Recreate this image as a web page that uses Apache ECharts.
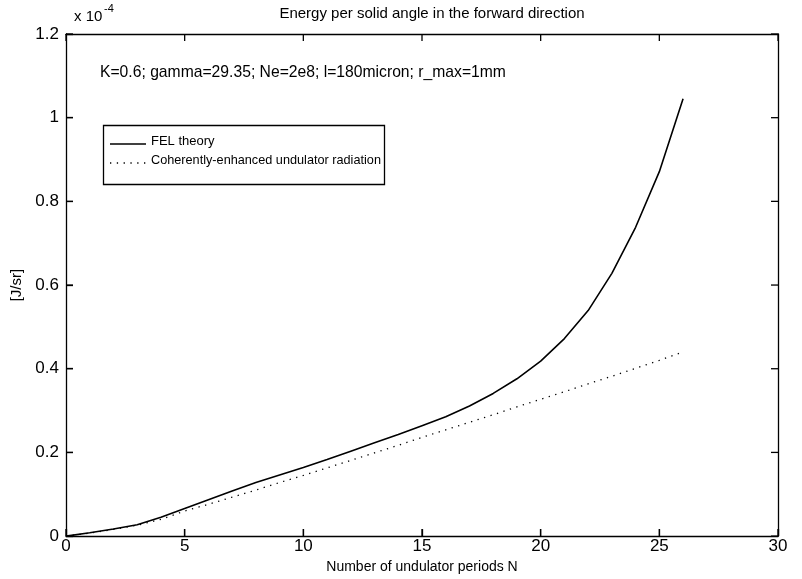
<!DOCTYPE html>
<html>
<head>
<meta charset="utf-8">
<script src="https://cdn.jsdelivr.net/npm/echarts@6/dist/echarts.min.js"></script>
<style>
html,body{margin:0;padding:0;background:#fff;}
#chart{width:802px;height:579px;}
</style>
</head>
<body>
<div id="chart"></div>
<script>
// Number of undulator periods N
const periods = [0,1,2,3,4,5,6,7,8,9,10,11,12,13,14,15,16,17,18,19,20,21,22,23,24,25,26];
// Energy per solid angle [J/sr], in units of 1e-4
const felTheory = [0,0.008,0.017,0.027,0.045,0.066,0.087,0.108,0.128,0.146,0.164,0.183,0.203,0.223,0.243,0.264,0.285,0.311,0.341,0.376,0.418,0.472,0.539,0.628,0.738,0.871,1.045];
const coherentUndulator = [0,0.007,0.016,0.026,0.040,0.060,0.076,0.093,0.110,0.128,0.145,0.163,0.181,0.199,0.217,0.236,0.254,0.272,0.290,0.309,0.327,0.345,0.364,0.382,0.401,0.420,0.440];
const xTicks = [0,5,10,15,20,25,30];
const yTicks = [0,0.2,0.4,0.6,0.8,1,1.2];
const seriesNames = ['FEL theory','Coherently-enhanced undulator radiation'];
const titleText = 'Energy per solid angle in the forward direction';
const noteText = 'K=0.6; gamma=29.35; Ne=2e8; l=180micron; r_max=1mm';

const FONT = 'Liberation Sans, Arial, Helvetica, sans-serif';
const chart = echarts.init(document.getElementById('chart'));
const G = {left:66, right:24, top:34, bottom:40};
const X_MIN = 0, X_MAX = 30, Y_MIN = 0, Y_MAX = 1.2;
const TICK_LEN = 7;
const pair = a => a.map((v,i)=>[periods[i], v]);
const lineStyleAxis = () => ({show:true, onZero:false, lineStyle:{color:'#000', width:1.3}});
// inward tick marks on all four sides of the box: [x, y, kind] (kind 0 = x tick, 1 = y tick)
const tickData = xTicks.map(v => [v, Y_MIN, 0]).concat(yTicks.map(v => [X_MIN, v, 1]));
function renderTick(params, api) {
  const xv = api.value(0), yv = api.value(1), kind = api.value(2);
  const st = {stroke:'#000', lineWidth:1.3, fill:null};
  if (kind === 0) {
    const b = api.coord([xv, Y_MIN]), t = api.coord([xv, Y_MAX]);
    return {type:'group', children:[
      {type:'line', shape:{x1:b[0], y1:b[1], x2:b[0], y2:b[1]-TICK_LEN}, style:st},
      {type:'line', shape:{x1:t[0], y1:t[1], x2:t[0], y2:t[1]+TICK_LEN}, style:st}]};
  }
  const l = api.coord([X_MIN, yv]), r = api.coord([X_MAX, yv]);
  return {type:'group', children:[
    {type:'line', shape:{x1:l[0], y1:l[1], x2:l[0]+TICK_LEN, y2:l[1]}, style:st},
    {type:'line', shape:{x1:r[0], y1:r[1], x2:r[0]-TICK_LEN, y2:r[1]}, style:st}]};
}
chart.setOption({
  animation:false,
  backgroundColor:'#fff',
  title:{text:titleText, left:427, top:1, textAlign:'center',
    textStyle:{fontFamily:FONT, fontSize:15, fontWeight:'normal', color:'#000'}},
  grid:G,
  xAxis:[{type:'value', min:X_MIN, max:X_MAX, interval:5, name:'Number of undulator periods N',
      nameLocation:'middle', nameGap:23,
      nameTextStyle:{fontFamily:FONT, fontSize:14, color:'#000'},
      axisLine:lineStyleAxis(), axisTick:{show:true, inside:true, length:TICK_LEN, lineStyle:{color:'#000', width:1.3}},
      axisLabel:{fontFamily:FONT, fontSize:17, color:'#000', margin:2},
      splitLine:{show:false}},
    {type:'value', position:'top', min:X_MIN, max:X_MAX, interval:5,
      axisLine:lineStyleAxis(), axisTick:{show:false}, axisLabel:{show:false}, splitLine:{show:false}}],
  yAxis:[{type:'value', min:Y_MIN, max:Y_MAX, interval:0.2, name:'[J/sr]',
      nameLocation:'middle', nameGap:39, nameRotate:90,
      nameTextStyle:{fontFamily:FONT, fontSize:15, color:'#000'},
      axisLine:lineStyleAxis(), axisTick:{show:true, inside:true, length:TICK_LEN, lineStyle:{color:'#000', width:1.3}},
      axisLabel:{fontFamily:FONT, fontSize:17, color:'#000', margin:7,
        formatter: v => String(+v.toFixed(1))},
      splitLine:{show:false}},
    {type:'value', position:'right', min:Y_MIN, max:Y_MAX, interval:0.2,
      axisLine:lineStyleAxis(), axisTick:{show:false}, axisLabel:{show:false}, splitLine:{show:false}}],
  series:[
    {name:seriesNames[0], type:'line', data:pair(felTheory), showSymbol:false, symbol:'none',
      lineStyle:{color:'#000', width:1.6}},
    {name:seriesNames[1], type:'line', data:pair(coherentUndulator), showSymbol:false, symbol:'none',
      lineStyle:{color:'#000', width:1.3, type:[1.3,5.5]}},
    {name:'ticks', type:'custom', xAxisIndex:0, yAxisIndex:0, clip:false, silent:true,
      encode:{x:0, y:1}, data:tickData, renderItem:renderTick, z:5}
  ],
  graphic:[
    {type:'text', left:74, top:9, style:{text:'x 10', fontFamily:FONT, fontSize:15, fill:'#000'}},
    {type:'text', left:104, top:3, style:{text:'-4', fontFamily:FONT, fontSize:11, fill:'#000'}},
    {type:'text', left:100, top:65, style:{text:noteText, fontFamily:FONT, fontSize:15.7, fill:'#000'}},
    {type:'rect', shape:{x:103.5, y:125.5, width:281, height:59}, style:{fill:'#fff', stroke:'#000', lineWidth:1.3}},
    {type:'line', shape:{x1:110, y1:144, x2:146, y2:144}, style:{stroke:'#000', lineWidth:1.3}},
    {type:'line', shape:{x1:110, y1:163, x2:146, y2:163}, style:{stroke:'#000', lineWidth:1.3, lineDash:[1.3,5.5]}},
    {type:'text', left:151, top:135, style:{text:seriesNames[0], fontFamily:FONT, fontSize:13, fill:'#000'}},
    {type:'text', left:151, top:154, style:{text:seriesNames[1], fontFamily:FONT, fontSize:12.7, fill:'#000'}}
  ]
});
</script>
</body>
</html>
